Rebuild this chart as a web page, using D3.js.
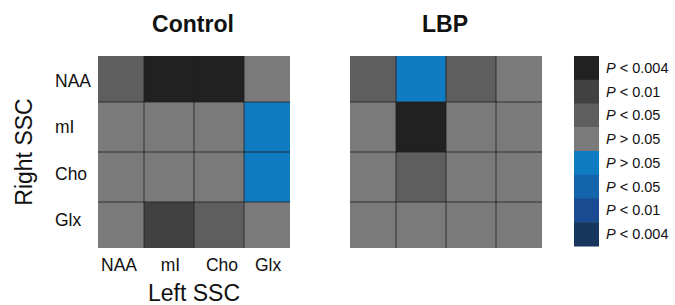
<!DOCTYPE html>
<html>
<head>
<meta charset="utf-8">
<script src="https://cdn.jsdelivr.net/npm/d3@7"></script>
<style>
  body { margin: 0; background: #fff; }
  text { font-family: "Liberation Sans", Arial, sans-serif; fill: #111; }
</style>
</head>
<body>
<svg id="chart" width="675" height="305"></svg>
<script>
var metabolites = ["NAA", "mI", "Cho", "Glx"];

// level index into legend: 0..3 grey scale, 4..7 blue scale
var controlLevels = [
    [2, 0, 0, 3],
    [3, 3, 3, 4],
    [3, 3, 3, 4],
    [3, 1, 2, 3]
];
var lbpLevels = [
    [2, 4, 2, 3],
    [3, 0, 3, 3],
    [3, 2, 3, 3],
    [3, 3, 3, 3]
];

var legendLabels = [
    ["<", "0.004"], ["<", "0.01"], ["<", "0.05"], [">", "0.05"],
    [">", "0.05"], ["<", "0.05"], ["<", "0.01"], ["<", "0.004"]
];
var legendColors = ["#212121", "#414141", "#5e5e5e", "#7a7a7a",
                    "#0f7bc1", "#1464ac", "#1a4a91", "#17365d"];

var svg = d3.select("#chart");

var color = d3.scaleOrdinal()
    .domain(d3.range(legendColors.length))
    .range(legendColors);

var heatmap = function(left, data, title) {
    var x = d3.scaleLinear().domain([0.58, 4.42]).range([left, left + 192]);
    var y = d3.scaleLinear().domain([0.58, 4.42]).range([56, 248]);

    var cells = [];
    data.forEach(function(row, r) {
        row.forEach(function(v, c) {
            cells.push({r: r + 1, c: c + 1, v: v});
        });
    });

    var g = svg.append("g");
    g.selectAll("rect")
        .data(cells)
        .enter().append("rect")
        .attr("x", function(d) { return x(Math.max(d.c - 0.5, 0.58)); })
        .attr("y", function(d) { return y(Math.max(d.r - 0.5, 0.58)); })
        .attr("width", function(d) { return x(Math.min(d.c + 0.5, 4.42)) - x(Math.max(d.c - 0.5, 0.58)); })
        .attr("height", function(d) { return y(Math.min(d.r + 0.5, 4.42)) - y(Math.max(d.r - 0.5, 0.58)); })
        .attr("fill", function(d) { return color(d.v); });

    // internal grid lines
    [1.5, 2.5, 3.5].forEach(function(b) {
        g.append("line")
            .attr("x1", x(b)).attr("x2", x(b))
            .attr("y1", 56).attr("y2", 248)
            .attr("stroke", "#1e1e1e").attr("stroke-opacity", 0.8).attr("stroke-width", 1);
        g.append("line")
            .attr("x1", left).attr("x2", left + 192)
            .attr("y1", y(b)).attr("y2", y(b))
            .attr("stroke", "#1e1e1e").attr("stroke-opacity", 0.8).attr("stroke-width", 1);
    });

    svg.append("text")
        .attr("x", left + 95)
        .attr("y", 32)
        .attr("text-anchor", "middle")
        .style("font-size", "23px")
        .style("font-weight", "bold")
        .text(title);

    return {x: x, y: y};
};

var ctrl = heatmap(98, controlLevels, "Control");
heatmap(350, lbpLevels, "LBP");

// tick label positions
var xt = d3.scaleLinear().domain([1, 4]).range([120, 268]);
var yt = d3.scaleLinear().domain([1, 4]).range([81, 220]);

svg.append("g").selectAll("text")
    .data(metabolites)
    .enter().append("text")
    .attr("x", function(d, i) { return i == 3 ? xt(i + 1) : ctrl.x(i + 1) + i * 1.5; })
    .attr("y", 271)
    .attr("text-anchor", "middle")
    .style("font-size", "17.5px")
    .text(function(d) { return d; });

svg.append("g").selectAll("text")
    .data(metabolites)
    .enter().append("text")
    .attr("x", 55)
    .attr("y", function(d, i) { return yt(i + 1) + 6; })
    .style("font-size", "17.5px")
    .text(function(d) { return d; });

svg.append("text")
    .attr("x", 194)
    .attr("y", 301)
    .attr("text-anchor", "middle")
    .style("font-size", "23px")
    .text("Left SSC");

svg.append("text")
    .attr("transform", "translate(32,152) rotate(-90)")
    .attr("text-anchor", "middle")
    .style("font-size", "23px")
    .text("Right SSC");

// legend
var ly = d3.scaleBand().domain(d3.range(legendColors.length)).range([56, 246]);
var legend = svg.append("g");
legend.selectAll("rect")
    .data(legendColors)
    .enter().append("rect")
    .attr("x", 574)
    .attr("y", function(d, i) { return ly(i); })
    .attr("width", 25)
    .attr("height", ly.bandwidth() + 0.5)
    .attr("fill", function(d) { return d; });

var lt = legend.selectAll("text")
    .data(legendLabels)
    .enter().append("text")
    .attr("x", 606)
    .attr("y", function(d, i) { return ly(i) + ly.bandwidth() / 2 + 5; })
    .style("font-size", "14.5px");
lt.append("tspan").style("font-style", "italic").text("P");
lt.append("tspan").text(function(d) { return " " + d[0] + " " + d[1]; });
</script>
</body>
</html>
